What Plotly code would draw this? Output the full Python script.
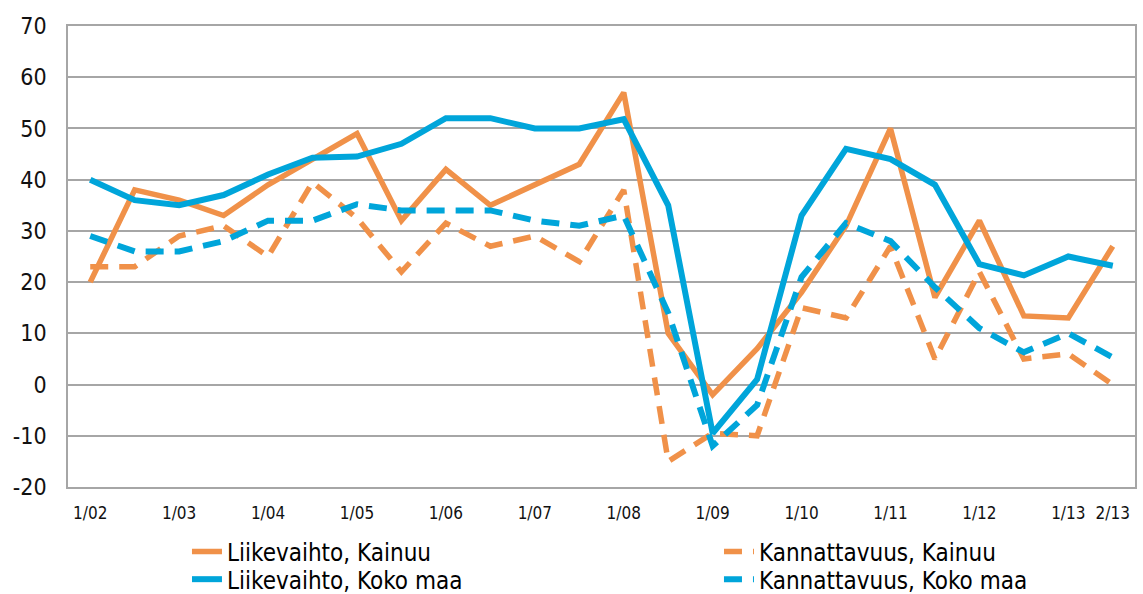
import plotly.graph_objects as go

# Half-year periods 1/02 ... 2/13
periods = [f"{h}/{y:02d}" for y in range(2, 14) for h in (1, 2)]
tick_labels = [p for p in periods if p.startswith("1/")] + ["2/13"]
y_ticks = [-20, -10, 0, 10, 20, 30, 40, 50, 60, 70]
y_tick_text = [str(v) for v in y_ticks]

liikevaihto_kainuu = [20, 38, 36, 33, 39, 44, 49, 32, 42, 35, 39, 43,
                      57, 10, -2, 7, 18, 31, 50, 17, 32, 13.4, 13, 27]
kannattavuus_kainuu = [23, 23, 29, 31, 25, 39.5, 32.5, 22, 31.5, 27, 29, 24,
                       38, -15, -9.5, -10, 15, 13, 27, 5, 22, 5, 6, 0]
liikevaihto_koko = [40, 36, 35, 37, 41, 44.3, 44.5, 47, 52, 52, 50, 50,
                    51.8, 35, -9.5, 1, 33, 46, 44, 39, 23.5, 21.3, 25, 23.2]
kannattavuus_koko = [29, 26, 26, 28, 32, 32, 35.2, 34, 34, 34, 32, 31,
                     33, 14, -12, -4, 21, 31.5, 28, 19, 11, 6.3, 10, 5.3]

ORANGE = "#F09149"
BLUE = "#00A5DA"
FONT = "DejaVu Sans Condensed"

fig = go.Figure()
fig.add_trace(go.Scatter(x=periods, y=liikevaihto_kainuu, mode="lines",
                         name="Liikevaihto, Kainuu", legend="legend",
                         line=dict(color=ORANGE, width=5.5)))
fig.add_trace(go.Scatter(x=periods, y=kannattavuus_kainuu, mode="lines",
                         name="Kannattavuus, Kainuu", legend="legend",
                         line=dict(color=ORANGE, width=5.5, dash="18px,11px")))
fig.add_trace(go.Scatter(x=periods, y=liikevaihto_koko, mode="lines",
                         name="Liikevaihto, Koko maa", legend="legend2",
                         line=dict(color=BLUE, width=6)))
fig.add_trace(go.Scatter(x=periods, y=kannattavuus_koko, mode="lines",
                         name="Kannattavuus, Koko maa", legend="legend2",
                         line=dict(color=BLUE, width=6, dash="18px,11px")))

legend_common = dict(
    orientation="h", x=0.1115, xanchor="left", yanchor="top",
    entrywidth=487, entrywidthmode="pixels",
    font=dict(family=FONT, size=24, color="#000000"),
    bgcolor="rgba(0,0,0,0)",
)

fig.update_layout(
    width=1143, height=594,
    margin=dict(l=68, r=7.5, t=26, b=107, autoexpand=False),
    paper_bgcolor="white", plot_bgcolor="white",
    font=dict(family=FONT, color="#111111"),
    hovermode=False,
    legend=dict(legend_common, y=-0.092),
    legend2=dict(legend_common, y=-0.152),
)
fig.update_xaxes(
    type="category", range=[-0.5, len(periods) - 0.5],
    tickmode="array", tickvals=tick_labels, ticktext=tick_labels,
    tickfont=dict(family=FONT, size=17, color="#111111"),
    showgrid=False, showline=True, linecolor="#A6A6A6", linewidth=1.5,
    mirror=True, ticks="", ticklabelstandoff=10, zeroline=False,
)
fig.update_yaxes(
    range=[-20, 70], tickmode="array", tickvals=y_ticks, ticktext=y_tick_text,
    tickfont=dict(family=FONT, size=23, color="#111111"),
    showgrid=True, gridcolor="#A6A6A6", gridwidth=1.5,
    showline=True, linecolor="#A6A6A6", linewidth=1.5, mirror=True,
    ticks="", ticklabelstandoff=15, zeroline=False,
)

fig.write_html("out.html", config={"displayModeBar": False},
               post_script="document.body.style.margin='0';")
